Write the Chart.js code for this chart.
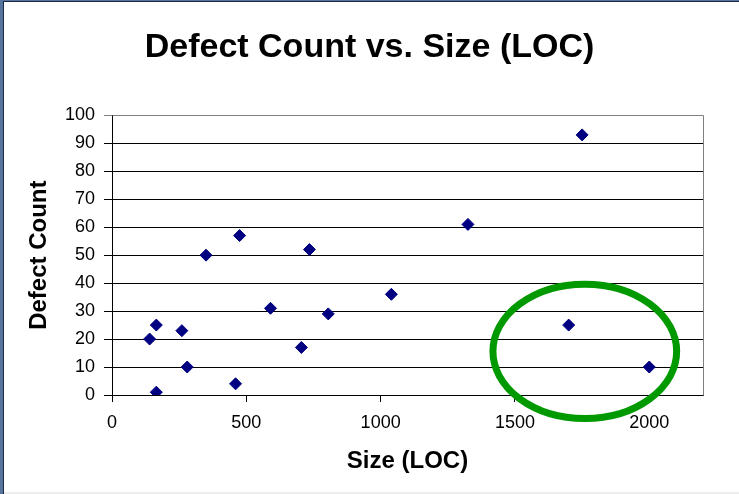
<!DOCTYPE html>
<html>
<head>
<meta charset="utf-8">
<script src="https://cdn.jsdelivr.net/npm/chart.js@4"></script>
<style>
  body { margin: 0; background: #fff; }
  #wrap { position: relative; width: 739px; height: 494px; overflow: hidden; }
  #wrap canvas { position: absolute; left: 0; top: 0; }
  .edge { position: absolute; }
</style>
</head>
<body>
<div id="wrap">
  <canvas id="defectChart" width="739" height="494"></canvas>
  <div class="edge" style="left:0;top:0;width:3px;height:494px;background:#56759e"></div>
  <div class="edge" style="left:3px;top:0;width:1px;height:494px;background:#1c2a44"></div>
  <div class="edge" style="left:0;top:0;width:739px;height:1px;background:#56759e"></div>
  <div class="edge" style="left:3px;top:1px;width:736px;height:1px;background:#1c2a44"></div>
  <div class="edge" style="left:4px;top:492px;width:735px;height:2px;background:#ececec"></div>
</div>
<script>
// values
var sizeLoc = [140, 165, 165, 260, 280, 350, 475, 460, 590, 705, 735, 805, 1040, 1325, 1750, 1700, 2000];
var defects = [20, 25, 1, 23, 10, 50, 57, 4, 31, 17, 52, 29, 36, 61, 93, 25, 10];
var xTicks = [0, 500, 1000, 1500, 2000];
var yTicks = [0, 10, 20, 30, 40, 50, 60, 70, 80, 90, 100];

// green ring round the two outliers, in data units
var highlight = { x: 1760, y: 15.6, rx: 342, ry: 24 };

var font = 'Liberation Sans, Arial, sans-serif';

var points = sizeLoc.map(function (s, i) {
    return { x: s, y: defects[i] };
});

// grey top/right frame of the plot area + the green ring
var framePlugin = {
    id: 'frame',
    beforeDatasetsDraw: function (chart) {
        var c = chart.ctx, a = chart.chartArea;
        var xs = chart.scales.x, ys = chart.scales.y;
        c.save();
        c.strokeStyle = '#808080';
        c.lineWidth = 1;
        c.beginPath();
        c.moveTo(Math.round(a.left) + 0.5, Math.round(a.top) + 0.5);
        c.lineTo(Math.round(a.right) + 0.5, Math.round(a.top) + 0.5);
        c.lineTo(Math.round(a.right) + 0.5, Math.round(a.bottom) + 0.5);
        c.stroke();

        var cx = xs.getPixelForValue(highlight.x);
        var cy = ys.getPixelForValue(highlight.y);
        var rx = xs.getPixelForValue(highlight.x + highlight.rx) - cx;
        var ry = cy - ys.getPixelForValue(highlight.y + highlight.ry);
        c.strokeStyle = '#009900';
        c.lineWidth = 7;
        c.beginPath();
        c.ellipse(cx, cy, rx, ry, 0, 0, Math.PI * 2);
        c.stroke();
        c.restore();
    }
};

var ctx = document.getElementById('defectChart').getContext('2d');
var chart = new Chart(ctx, {
    type: 'scatter',
    data: {
        datasets: [{
            label: 'Defects',
            data: points,
            pointStyle: 'rectRot',
            pointRadius: 6,
            pointHoverRadius: 6,
            borderWidth: 1,
            borderColor: '#000080',
            backgroundColor: '#000080'
        }]
    },
    options: {
        responsive: false,
        animation: false,
        events: [],
        layout: { padding: 0 },
        scales: {
            x: {
                type: 'linear',
                min: 0,
                max: 2200,
                afterFit: function (s) { s.height = 99; },
                afterBuildTicks: function (s) {
                    s.ticks = xTicks.map(function (v) { return { value: v }; });
                },
                grid: {
                    display: true,
                    drawOnChartArea: false,
                    drawTicks: true,
                    tickLength: 7,
                    color: '#000'
                },
                border: { display: true, color: '#000', width: 1 },
                ticks: {
                    padding: 10,
                    color: '#000',
                    font: { family: font, size: 18 },
                    callback: function (v) { return String(v); }
                },
                title: {
                    display: true,
                    text: 'Size (LOC)',
                    color: '#000',
                    font: { family: font, size: 24, weight: 'bold' },
                    padding: { top: 0, bottom: 18 }
                }
            },
            y: {
                type: 'linear',
                min: 0,
                max: 100,
                afterFit: function (s) { s.width = 112; },
                afterBuildTicks: function (s) {
                    s.ticks = yTicks.map(function (v) { return { value: v }; });
                },
                grid: {
                    color: function (c) {
                        return c.tick && c.tick.value === 100 ? '#808080' : '#000';
                    },
                    tickLength: 8,
                    lineWidth: 1
                },
                border: { display: true, color: '#000', width: 1 },
                ticks: {
                    padding: 9,
                    color: '#000',
                    font: { family: font, size: 18 },
                    callback: function (v) { return String(v); }
                },
                title: {
                    display: true,
                    text: 'Defect Count',
                    color: '#000',
                    font: { family: font, size: 24, weight: 'bold' },
                    padding: { top: 25, bottom: 0 }
                }
            },
            // empty strip on the right so the plot ends where the reference does
            spacer: {
                type: 'linear',
                position: 'right',
                display: true,
                afterFit: function (s) { s.width = 36; },
                grid: { display: false, drawTicks: false },
                border: { display: false },
                ticks: { display: false }
            }
        },
        plugins: {
            legend: { display: false },
            tooltip: { enabled: false },
            title: {
                display: true,
                text: 'Defect Count vs. Size (LOC)',
                color: '#000',
                font: { family: font, size: 34, weight: 'bold' },
                padding: { top: 27, bottom: 47.5 }
            }
        }
    },
    plugins: [framePlugin]
});
</script>
</body>
</html>
